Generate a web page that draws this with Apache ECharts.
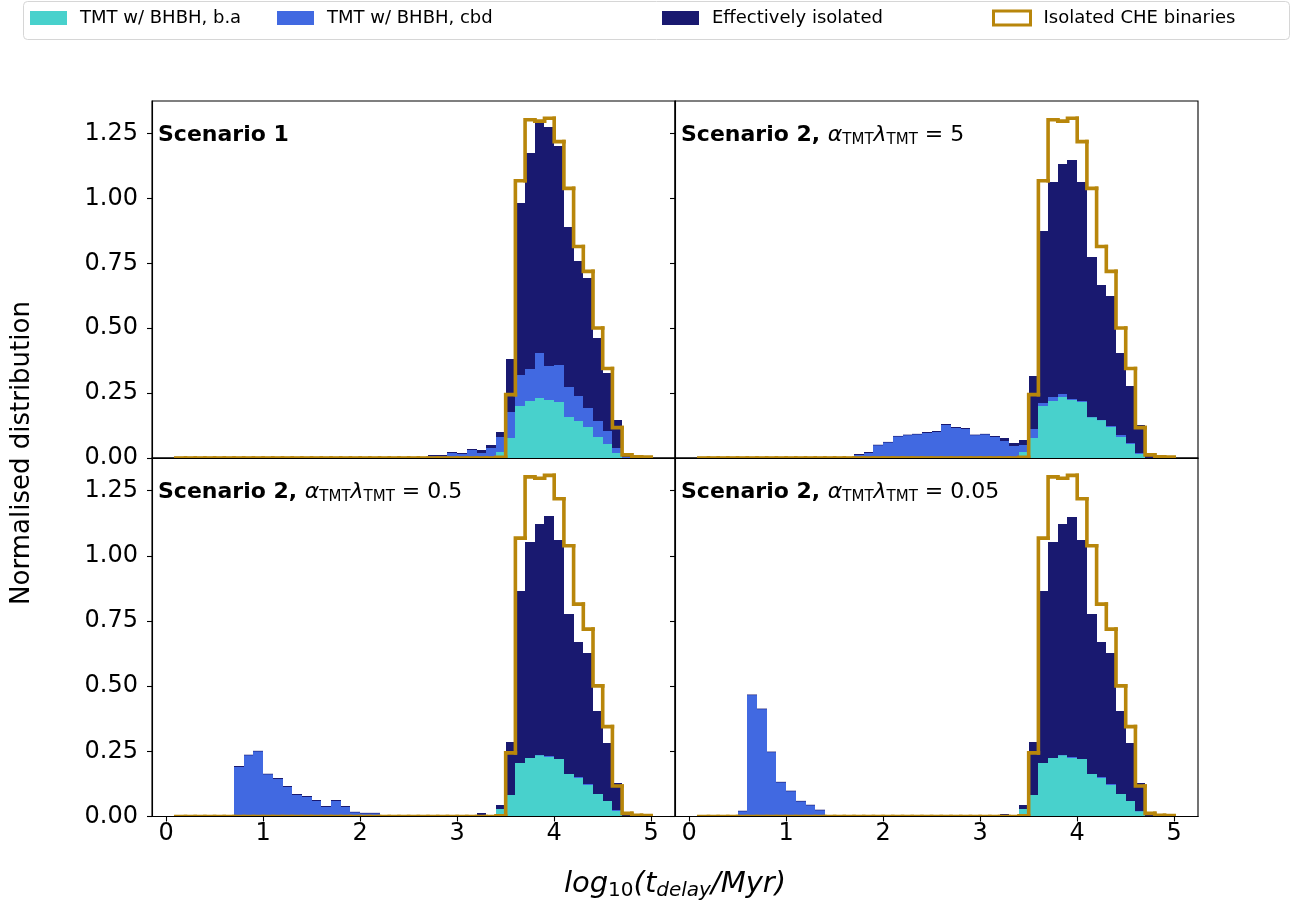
<!DOCTYPE html>
<html>
<head>
<meta charset="utf-8">
<script src="https://cdn.jsdelivr.net/npm/echarts@6/dist/echarts.min.js"></script>
<style>
html,body{margin:0;padding:0;background:#fff;}
#chart{width:1297px;height:910px;}
</style>
</head>
<body>
<div id="chart"></div>
<script>
// ---------------- DATA ----------------
// histogram bin edges of log10(t_delay/Myr)
const binEdges = [
  0.1,0.2,0.3,0.4,0.5,0.6,0.7,0.8,0.9,1.0,
  1.1,1.2,1.3,1.4,1.5,1.6,1.7,1.8,1.9,2.0,
  2.1,2.2,2.3,2.4,2.5,2.6,2.7,2.8,2.9,3.0,
  3.1,3.2,3.3,3.4,3.5,3.6,3.7,3.8,3.9,4.0,
  4.1,4.2,4.3,4.4,4.5,4.6,4.7,4.8,4.9,5.0
];

const xTickValues = [0, 1, 2, 3, 4, 5];
const yTickValues = [0, 0.25, 0.5, 0.75, 1.0, 1.25];

const seriesNames = ['TMT w/ BHBH, b.a', 'TMT w/ BHBH, cbd', 'Effectively isolated', 'Isolated CHE binaries'];

// Isolated CHE binaries (step outline, same in every panel)
const isolatedCHE = [
  0,0,0,0,0,0,0,0,0,0,
  0,0,0,0,0,0,0,0,0,0,
  0,0,0,0,0,0,0,0,0,0,
  0,0,0,0.003,0.244,1.068,1.303,1.298,1.309,1.219,
  1.039,0.815,0.719,0.501,0.345,0.117,0.012,0.005,0.004
];

// Scenario 1
const s1BA = [
  0,0,0,0,0,0,0,0,0,0,
  0,0,0,0,0,0,0,0,0,0,
  0,0,0,0,0,0,0,0,0,0,
  0,0,0,0.024,0.078,0.201,0.219,0.231,0.223,0.215,
  0.159,0.144,0.121,0.082,0.054,0.018,0,0,0
];
const s1CBD = [
  0,0,0,0,0,0,0,0,0,0,
  0,0,0,0,0,0,0,0,0,0,
  0,0,0,0,0,0,0.007,0.007,0.019,0.015,
  0.031,0.021,0.038,0.057,0.099,0.118,0.125,0.173,0.132,0.143,
  0.115,0.094,0.073,0.060,0.050,0.022,0.002,0,0
];
const s1ISO = [
  0,0,0,0,0,0,0,0,0,0,
  0,0,0,0,0,0,0,0,0,0,
  0,0,0.004,0,0,0.004,0.004,0.004,0.004,0.004,
  0.004,0.010,0.012,0.019,0.204,0.663,0.830,0.886,0.922,0.846,
  0.616,0.520,0.501,0.322,0.224,0.106,0.014,0,0
];

// Scenario 2, alpha*lambda = 5
const s2aBA = [
  0,0,0,0,0,0,0,0,0,0,
  0,0,0,0,0,0,0,0,0,0,
  0,0,0,0,0,0,0,0,0,0,
  0,0,0,0.024,0.077,0.200,0.219,0.235,0.224,0.215,
  0.158,0.146,0.119,0.081,0.054,0.017,0,0,0
];
const s2aCBD = [
  0,0,0,0,0,0,0,0,0,0,
  0,0,0,0,0,0,0.013,0.021,0.049,0.060,
  0.083,0.088,0.091,0.098,0.102,0.129,0.117,0.113,0.088,0.091,
  0.082,0.067,0.047,0.026,0.035,0.012,0.016,0.011,0.003,0.004,
  0.001,0.002,0.004,0.007,0.002,0.003,0,0,0
];
const s2aISO = [
  0,0,0,0,0,0,0,0,0,0,
  0,0,0,0,0,0,0.002,0.002,0.002,0.002,
  0.002,0.002,0.002,0.002,0.002,0.002,0.002,0.002,0.002,0.002,
  0.004,0.010,0.012,0.019,0.203,0.661,0.830,0.885,0.923,0.844,
  0.615,0.519,0.500,0.318,0.221,0.107,0.010,0,0
];

// Scenario 2, alpha*lambda = 0.5
const s2bBA = [
  0,0,0,0,0,0,0,0,0,0,
  0,0,0,0,0,0,0,0,0,0,
  0,0,0,0,0,0,0,0,0,0,
  0,0,0,0.027,0.081,0.204,0.223,0.236,0.230,0.219,
  0.162,0.148,0.121,0.085,0.058,0.022,0,0,0
];
const s2bCBD = [
  0,0,0,0,0,0,0.191,0.235,0.250,0.162,
  0.145,0.114,0.083,0.076,0.060,0.037,0.060,0.037,0.016,0.012,
  0.012,0,0,0,0,0,0,0,0,0,
  0,0,0,0,0,0,0,0.001,0.001,0,
  0,0.002,0.003,0,0,0.002,0,0,0
];
const s2bISO = [
  0,0,0,0,0,0,0.002,0.002,0.002,0.002,
  0.002,0.002,0.002,0.002,0.002,0.002,0.002,0.002,0.002,0.002,
  0.002,0.005,0.005,0,0,0,0,0,0,0,
  0,0.012,0,0.019,0.204,0.661,0.831,0.886,0.923,0.843,
  0.615,0.519,0.502,0.319,0.224,0.105,0.010,0,0
];

// Scenario 2, alpha*lambda = 0.05
const s2cBA = [
  0,0,0,0,0,0,0,0,0,0,
  0,0,0,0,0,0,0,0,0,0,
  0,0,0,0,0,0,0,0,0,0,
  0,0,0,0.027,0.081,0.204,0.223,0.236,0.226,0.219,
  0.162,0.148,0.121,0.085,0.058,0.020,0,0,0
];
const s2cCBD = [
  0,0,0,0,0.020,0.466,0.412,0.247,0.131,0.097,
  0.058,0.043,0.024,0,0,0,0,0,0,0,
  0,0,0,0,0,0,0,0,0,0,
  0,0,0,0,0,0,0,0.001,0.002,0,
  0,0.002,0.003,0,0,0.002,0,0,0
];
const s2cISO = [
  0,0,0,0,0.002,0.002,0.002,0.002,0.002,0.002,
  0.002,0.002,0.002,0.006,0,0,0,0,0,0,
  0,0,0,0,0,0,0,0,0,0,
  0,0.010,0,0.019,0.204,0.661,0.831,0.886,0.922,0.843,
  0.615,0.519,0.502,0.319,0.223,0.107,0.010,0,0
];

const panelLabels = [
  {bold: 'Scenario 1', value: null},
  {bold: 'Scenario 2, ', value: '5'},
  {bold: 'Scenario 2, ', value: '0.5'},
  {bold: 'Scenario 2, ', value: '0.05'}
];

const panels = [
  {ba: s1BA, cbd: s1CBD, iso: s1ISO},
  {ba: s2aBA, cbd: s2aCBD, iso: s2aISO},
  {ba: s2bBA, cbd: s2bCBD, iso: s2bISO},
  {ba: s2cBA, cbd: s2cCBD, iso: s2cISO}
];

// ---------------- STYLE / LAYOUT ----------------
const COLORS = ['#48d1cc', '#4169e1', '#191970', '#b8860b'];
const FONT = 'DejaVu Sans';
const gridBoxes = [
  {left: 152, top: 101, width: 523, height: 357},
  {left: 675, top: 101, width: 523, height: 357},
  {left: 152, top: 458, width: 523, height: 358.5},
  {left: 675, top: 458, width: 523, height: 358.5}
];
const X_MIN = -0.145, X_MAX = 5.245, Y_MAX = 1.3755;

function barItem(params, api) {
  const lo = api.coord([api.value(0), api.value(2)]);
  const hi = api.coord([api.value(1), api.value(3)]);
  const x0 = Math.round(lo[0]), x1 = Math.round(hi[0]);
  const yb = Math.round(lo[1]), yt = Math.round(hi[1]);
  const c = api.visual('color');
  if (yb - yt < 1) {
    return {type: 'rect', shape: {x: x0, y: hi[1], width: x1 - x0, height: Math.max(lo[1] - hi[1], 0.6)},
            style: {fill: c}};
  }
  return {
    type: 'rect',
    shape: {x: x0, y: yt, width: x1 - x0, height: yb - yt},
    style: {fill: c}
  };
}

function stepItem(params, api) {
  const x0 = api.value(0), x1 = api.value(1), h = api.value(2), hp = api.value(3), last = api.value(4);
  const pts = [api.coord([x0, hp]), api.coord([x0, h]), api.coord([x1, h])];
  if (last) pts.push(api.coord([x1, 0]));
  return {
    type: 'polyline',
    shape: {points: pts},
    style: {stroke: COLORS[3], lineWidth: 3.6, fill: null, lineCap: 'square', lineJoin: 'miter'}
  };
}

const grids = [], xAxes = [], yAxes = [], series = [];
panels.forEach((p, gi) => {
  const isBottom = gi >= 2, isLeft = gi % 2 === 0;
  grids.push(Object.assign({show: true, borderColor: '#000', borderWidth: 1.1, backgroundColor: 'transparent'}, gridBoxes[gi]));
  xAxes.push({
    gridIndex: gi, type: 'value', min: X_MIN, max: X_MAX, z: 10,
    axisLine: {show: true, onZero: false, lineStyle: {color: '#000', width: 1.1}},
    splitLine: {show: false},
    axisTick: {show: isBottom, length: 5, lineStyle: {color: '#000', width: 1.1}, customValues: xTickValues},
    axisLabel: {show: isBottom, customValues: xTickValues, fontSize: 24, color: '#000', fontFamily: FONT, margin: 5,
                formatter: v => String(v)}
  });
  yAxes.push({
    gridIndex: gi, type: 'value', min: 0, max: Y_MAX, z: 10,
    axisLine: {show: true, onZero: false, lineStyle: {color: '#000', width: 1.1}},
    splitLine: {show: false},
    axisTick: {show: true, length: 5, lineStyle: {color: '#000', width: 1.1}, customValues: yTickValues},
    axisLabel: {show: isLeft, customValues: yTickValues, fontSize: 24, color: '#000', fontFamily: FONT, margin: 14,
                formatter: v => v.toFixed(2)}
  });
  const layers = [p.ba, p.cbd, p.iso];
  const base = new Array(binEdges.length - 1).fill(0);
  layers.forEach((arr, li) => {
    const data = [];
    arr.forEach((v, i) => {
      if (v > 0) data.push([binEdges[i], binEdges[i + 1], base[i], base[i] + v]);
      base[i] += v;
    });
    series.push({
      type: 'custom', name: seriesNames[li], xAxisIndex: gi, yAxisIndex: gi,
      renderItem: barItem, data: data, z: 2,
      itemStyle: {color: COLORS[li]},
      encode: {x: [0, 1], y: [2, 3]}
    });
  });
  const stepData = isolatedCHE.map((h, i) => [binEdges[i], binEdges[i + 1], h, i === 0 ? 0 : isolatedCHE[i - 1], i === isolatedCHE.length - 1 ? 1 : 0]);
  series.push({
    type: 'custom', name: seriesNames[3], xAxisIndex: gi, yAxisIndex: gi,
    renderItem: stepItem, data: stepData, z: 3, clip: true,
    itemStyle: {color: COLORS[3]},
    encode: {x: [0, 1], y: [2, 3]}
  });
});

// legend entries, one component each
const legendLeft = [30, 277, 662, 992];
const legendCommon = {
  top: 9, padding: 0, itemWidth: 37, itemHeight: 14, icon: 'rect', z: 10,
  textStyle: {fontSize: 18, color: '#000', fontFamily: FONT, padding: [0, 0, 0, 8]}
};
const legends = seriesNames.map((n, i) => Object.assign({}, legendCommon, {
  left: legendLeft[i],
  data: [i === 3 ? {name: n, icon: 'rect', itemStyle: {color: '#fff', borderColor: COLORS[3], borderWidth: 3}} : {name: n}]
}));

const panelPos = [[158, 135], [681, 135], [158, 492], [681, 492]];
const labelRich = {
  b: {fontFamily: FONT, fontWeight: 'bold', fontSize: 22, lineHeight: 26, color: '#000'},
  m: {fontFamily: FONT, fontStyle: 'italic', fontSize: 22, lineHeight: 26, color: '#000'},
  s: {fontFamily: FONT, fontSize: 15, lineHeight: 12, verticalAlign: 'bottom', color: '#000'},
  r: {fontFamily: FONT, fontSize: 22, lineHeight: 26, color: '#000'}
};
const graphics = [
  {type: 'rect', z: 0, shape: {x: 23.5, y: 1.5, width: 1266, height: 38, r: 4},
   style: {fill: '#fff', stroke: '#d6d6d6', lineWidth: 1}},
  {type: 'text', x: 22, y: 453, rotation: Math.PI / 2, z: 10,
   style: {text: 'Normalised distribution', fontFamily: FONT, fontSize: 26, fill: '#000', align: 'center', verticalAlign: 'middle'}},
  {type: 'text', x: 675, y: 884, z: 10,
   style: {
     text: '{i|log}{s|10}{i|(t}{si|delay}{i|/Myr)}',
     align: 'center', verticalAlign: 'middle',
     rich: {
       i: {fontFamily: FONT, fontStyle: 'italic', fontSize: 29, lineHeight: 33, color: '#000'},
       s: {fontFamily: FONT, fontSize: 20, lineHeight: 15, verticalAlign: 'bottom', color: '#000'},
       si: {fontFamily: FONT, fontStyle: 'italic', fontSize: 20, lineHeight: 15, verticalAlign: 'bottom', color: '#000'}
     }
   }}
];
panelLabels.forEach((L, i) => {
  const text = L.value === null
    ? '{b|' + L.bold + '}'
    : '{b|' + L.bold + '}{m|α}{s|TMT}{m|λ}{s|TMT}{r| = ' + L.value + '}';
  graphics.push({type: 'text', x: panelPos[i][0], y: panelPos[i][1], z: 10,
    style: {text: text, rich: labelRich, align: 'left', verticalAlign: 'middle'}});
});

const chart = echarts.init(document.getElementById('chart'), null, {renderer: 'canvas'});
chart.setOption({
  animation: false,
  backgroundColor: '#fff',
  grid: grids,
  xAxis: xAxes,
  yAxis: yAxes,
  legend: legends,
  graphic: graphics,
  series: series
});
</script>
</body>
</html>
